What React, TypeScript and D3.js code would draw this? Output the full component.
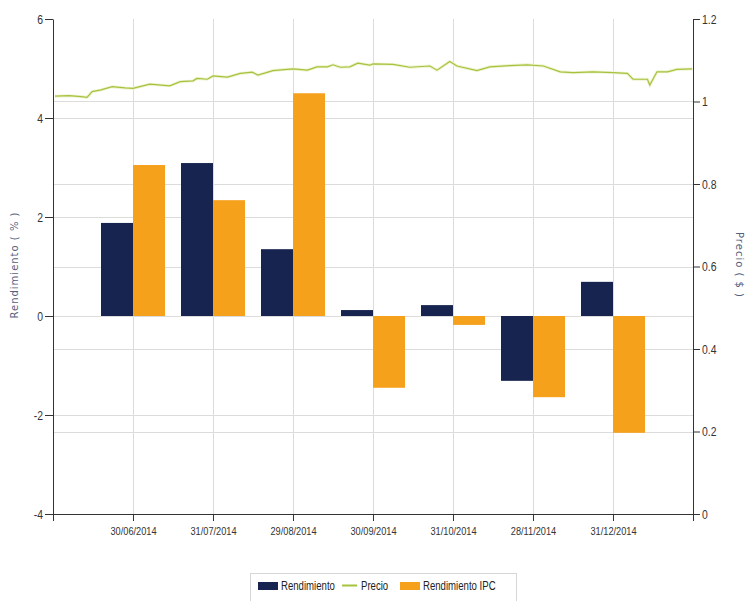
import { FC, useEffect, useRef } from "react";
import * as d3 from "d3";

const categories = [
    "30/06/2014",
    "31/07/2014",
    "29/08/2014",
    "30/09/2014",
    "31/10/2014",
    "28/11/2014",
    "31/12/2014",
];
const rendimiento = [1.88, 3.09, 1.35, 0.12, 0.22, -1.31, 0.69];
const rendimientoIPC = [3.05, 2.34, 4.5, -1.45, -0.18, -1.64, -2.36];

// price position is expressed in category units (0 = first category)
const pricePos = [
    -0.975, -0.8, -0.65, -0.575, -0.51, -0.4, -0.26, -0.1, 0, 0.21, 0.46, 0.59,
    0.75, 0.8, 0.93, 1.0, 1.18, 1.34, 1.49, 1.56, 1.75, 1.93, 2.0, 2.18, 2.3,
    2.43, 2.5, 2.59, 2.71, 2.81, 2.96, 3.0, 3.25, 3.46, 3.71, 3.8, 3.96, 4.05,
    4.3, 4.46, 4.71, 4.93, 5.13, 5.34, 5.5, 5.75, 6.0, 6.18, 6.25, 6.43, 6.46,
    6.55, 6.68, 6.8, 6.99,
];
const priceValues = [
    1.013, 1.014, 1.012, 1.01, 1.024, 1.028, 1.036, 1.033, 1.032, 1.042, 1.038,
    1.048, 1.05, 1.056, 1.054, 1.062, 1.059, 1.068, 1.071, 1.064, 1.075, 1.078,
    1.079, 1.076, 1.084, 1.084, 1.089, 1.083, 1.084, 1.093, 1.088, 1.091, 1.09,
    1.083, 1.086, 1.076, 1.097, 1.086, 1.075, 1.084, 1.087, 1.089, 1.086, 1.072,
    1.07, 1.072, 1.07, 1.068, 1.054, 1.054, 1.04, 1.072, 1.072, 1.078, 1.079,
];

const leftTicks = [-4, -2, 0, 2, 4, 6];
const rightTicks = [0, 0.2, 0.4, 0.6, 0.8, 1, 1.2];
const seriesNames = ["Rendimiento", "Precio", "Rendimiento IPC"];

const NAVY = "#16244f";
const ORANGE = "#f6a11c";
const GREEN = "#a6c23e";
const GRID = "#dcdcdc";
const AXIS = "#333";
const FONT = "'Liberation Sans', Arial, sans-serif";

// squeeze text horizontally to mimic a narrow font
const narrow = (sel: d3.Selection<any, any, any, any>, factor = 0.8) => {
    sel.each(function () {
        const node = this as SVGTextElement;
        const len = node.getComputedTextLength();
        if (len > 0) {
            node.setAttribute("textLength", String(len * factor));
            node.setAttribute("lengthAdjust", "spacingAndGlyphs");
        }
    });
};

const Chart: FC<{ width?: number; height?: number }> = ({ width = 748, height = 601 }) => {
    const svgRef = useRef<SVGSVGElement>(null);

    useEffect(() => {
        if (!svgRef.current) return;
        const svg = d3.select(svgRef.current);
        const marginLeft = 53;
        const marginRight = 55;
        const marginTop = 19;
        const marginBottom = 87;
        const x0 = marginLeft;
        const x1 = width - marginRight;
        const yBottom = height - marginBottom;

        svg.attr("width", width).attr("height", height).attr("viewBox", [0, 0, width, height]);

        const xPos = d3.scaleLinear([-1, categories.length], [x0, x1]);
        const step = xPos(1) - xPos(0);
        const y = d3.scaleLinear([-4, 6], [yBottom, marginTop]);
        const yPrice = d3.scaleLinear([0, 1.2], [yBottom, marginTop]);

        // grid
        const grid = svg.append("g").attr("stroke", GRID).attr("stroke-width", 1);
        rightTicks.slice(1, -1).forEach((t) =>
            grid.append("line").attr("x1", x0).attr("x2", x1)
                .attr("y1", Math.round(yPrice(t)) + 0.5).attr("y2", Math.round(yPrice(t)) + 0.5)
        );
        leftTicks.slice(1, -1).forEach((t) =>
            grid.append("line").attr("x1", x0).attr("x2", x1)
                .attr("y1", Math.round(y(t)) + 0.5).attr("y2", Math.round(y(t)) + 0.5)
        );
        categories.forEach((_, i) =>
            grid.append("line")
                .attr("x1", Math.round(xPos(i)) + 0.5).attr("x2", Math.round(xPos(i)) + 0.5)
                .attr("y1", marginTop).attr("y2", yBottom)
        );

        // bars
        const barW = step * 0.4;
        const bars = svg.append("g");
        bars.selectAll(".r")
            .data(rendimiento)
            .join("rect")
            .attr("x", (_, i) => xPos(i) - barW)
            .attr("width", barW)
            .attr("y", (d) => y(Math.max(0, d)))
            .attr("height", (d) => Math.abs(y(d) - y(0)))
            .attr("fill", NAVY);
        bars.selectAll(".ipc")
            .data(rendimientoIPC)
            .join("rect")
            .attr("x", (_, i) => xPos(i))
            .attr("width", barW)
            .attr("y", (d) => y(Math.max(0, d)))
            .attr("height", (d) => Math.abs(y(d) - y(0)))
            .attr("fill", ORANGE);

        // price line
        const line = d3.line<number>()
            .x((_, i) => xPos(pricePos[i]))
            .y((d) => yPrice(d));
        svg.append("path")
            .attr("fill", "none")
            .attr("stroke", "#eef3cf")
            .attr("stroke-width", 3)
            .attr("d", line(priceValues));
        svg.append("path")
            .attr("fill", "none")
            .attr("stroke", GREEN)
            .attr("stroke-width", 1.2)
            .attr("d", line(priceValues));

        // axes
        const styleAxis = (g: d3.Selection<SVGGElement, unknown, null, undefined>, size: number) => {
            g.selectAll(".domain").attr("stroke", AXIS);
            g.selectAll(".tick line").attr("stroke", AXIS);
            g.selectAll(".tick text")
                .attr("fill", "#333")
                .attr("font-family", FONT)
                .attr("font-size", size)
                .call(narrow, 0.8);
        };

        svg.append("g")
            .attr("transform", `translate(0,${yBottom})`)
            .call(
                d3.axisBottom(xPos)
                    .tickValues(d3.range(-1, categories.length + 1))
                    .tickFormat((d) => categories[d as number] ?? "")
                    .tickSize(7)
                    .tickSizeOuter(0)
                    .tickPadding(6)
            )
            .call((g) => styleAxis(g, 11.5));

        svg.append("g")
            .attr("transform", `translate(${x0},0)`)
            .call(
                d3.axisLeft(y)
                    .tickValues(leftTicks)
                    .tickFormat((d) => String(d))
                    .tickSize(8)
                    .tickSizeOuter(0)
                    .tickPadding(2)
            )
            .call((g) => styleAxis(g, 13));

        svg.append("g")
            .attr("transform", `translate(${x1},0)`)
            .call(
                d3.axisRight(yPrice)
                    .tickValues(rightTicks)
                    .tickFormat((d) => String(d))
                    .tickSize(7)
                    .tickSizeOuter(0)
                    .tickPadding(2)
            )
            .call((g) => styleAxis(g, 13));

        // axis titles
        svg.append("text")
            .attr("transform", `translate(18,265) rotate(-90)`)
            .attr("text-anchor", "middle")
            .attr("font-family", "'DejaVu Sans', sans-serif")
            .attr("font-size", 10)
            .attr("letter-spacing", 1)
            .attr("fill", "#55607c")
            .text("Rendimiento  ( % )");
        svg.append("text")
            .attr("transform", `translate(736,265) rotate(90)`)
            .attr("text-anchor", "middle")
            .attr("font-family", "'DejaVu Sans', sans-serif")
            .attr("font-size", 10)
            .attr("letter-spacing", 1)
            .attr("fill", "#55607c")
            .text("Precio  ( $ )");

        // legend
        const legend = svg.append("g").attr("transform", `translate(250,573)`);
        legend.append("rect")
            .attr("x", 0.5).attr("y", 0.5).attr("width", 266).attr("height", 34)
            .attr("fill", "#fff").attr("stroke", "#d6d6d6");
        const items = [
            { name: seriesNames[0], x: 8, w: 23 },
            { name: seriesNames[1], x: 92, w: 19 },
            { name: seriesNames[2], x: 150, w: 23 },
        ];
        items.forEach((it, i) => {
            if (i === 1) {
                legend.append("line")
                    .attr("x1", it.x).attr("x2", it.x + 15)
                    .attr("y1", 12.5).attr("y2", 12.5)
                    .attr("stroke", GREEN).attr("stroke-width", 2);
            } else {
                legend.append("rect")
                    .attr("x", it.x).attr("y", 9).attr("width", 20).attr("height", 8)
                    .attr("fill", i === 0 ? NAVY : ORANGE);
            }
            legend.append("text")
                .attr("x", it.x + it.w)
                .attr("y", 17)
                .attr("font-family", FONT)
                .attr("font-size", 12)
                .attr("fill", "#222")
                .text(it.name)
                .call(narrow, 0.8);
        });

        return () => {
            svg.selectAll("*").remove();
        };
        // eslint-disable-next-line react-hooks/exhaustive-deps
    }, [width, height]);

    return (
        <svg
            ref={svgRef}
            style={{ position: "absolute", left: 0, top: 0, display: "block", background: "#fff" }}
        />
    );
};

export default function App() {
    return <Chart />;
}
